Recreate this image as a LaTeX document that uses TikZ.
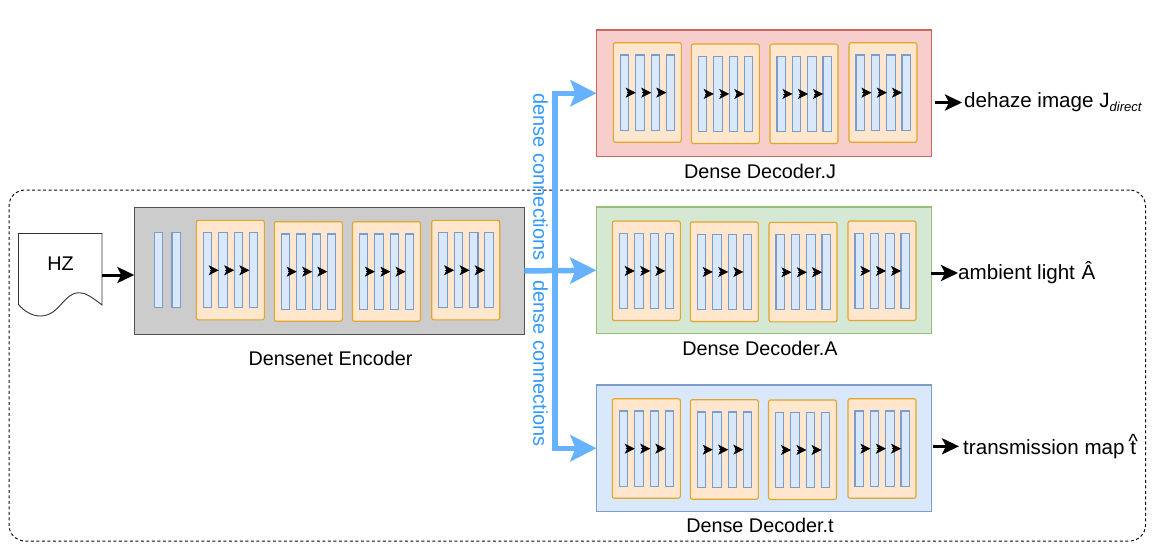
\documentclass[tikz,border=0pt]{standalone}
\usepackage{fontspec}
\setmainfont{Liberation Sans}
\usetikzlibrary{arrows.meta,calc}
\definecolor{busblue}{HTML}{66B2FF}
\definecolor{labelblue}{HTML}{3399FF}
\definecolor{orangefill}{HTML}{FFE6CC}
\definecolor{orangeline}{HTML}{E0A52A}
\definecolor{barfill}{HTML}{DAE8FC}
\definecolor{barline}{HTML}{7C9CCB}
\definecolor{redfill}{HTML}{F8CECC}
\definecolor{redline}{HTML}{CC6660}
\definecolor{greenfill}{HTML}{D5E8D4}
\definecolor{greenline}{HTML}{97C07D}
\tikzset{
  panel/.style={draw=#1,line width=1.1pt,inner sep=0pt,outer sep=0pt,minimum width=335pt,minimum height=126.5pt,anchor=north west},
  orangebox/.style={draw=orangeline,fill=orangefill,rounded corners=2pt,line width=1.1pt,inner sep=0pt,outer sep=0pt,minimum width=68pt,minimum height=99.5pt,anchor=north west},
  barbox/.style={draw=barline,fill=barfill,line width=1.1pt,inner sep=0pt,outer sep=0pt,minimum width=8.4pt,minimum height=75.3pt,anchor=north west},
  tinytip/.style={-{Stealth[length=10pt,width=10pt,inset=2.5pt]},line width=.6pt,black},
  bigtip/.style={-{Stealth[length=17pt,width=16pt,inset=4pt]},line width=3pt,black},
  bustip/.style={-{Stealth[length=26pt,width=26pt,inset=5pt]},line width=5.5pt,busblue,line join=miter},
  captext/.style={font=\fontsize{19.8}{22}\selectfont,inner sep=0pt,text=black},
  outtext/.style={font=\fontsize{20.6}{22}\selectfont,inner sep=0pt,anchor=west,text=black},
  buslabel/.style={font=\fontsize{20}{22}\selectfont,inner sep=0pt,text=labelblue,rotate=-90}
}
\newcommand{\dblock}[3]{%
  \node[orangebox] (#1) at (#2,#3) {};
  \node[barbox] (#1a) at ({#2+7},{#3+12.3}) {};
  \node[barbox] (#1b) at ({#2+22.4},{#3+12.3}) {};
  \node[barbox] (#1c) at ({#2+37.9},{#3+12.3}) {};
  \node[barbox] (#1d) at ({#2+53},{#3+12.3}) {};
  \draw[tinytip] ([xshift=-2pt]#1a.east) -- (#1b.west);
  \draw[tinytip] ([xshift=-2pt]#1b.east) -- (#1c.west);
  \draw[tinytip] ([xshift=-2pt]#1c.east) -- (#1d.west);
}
\begin{document}
\begin{tikzpicture}[x=1pt,y=-1pt]
\useasboundingbox (0,0) rectangle (1158,547);
% outer frame
\node[draw=black!95,dash pattern=on 3pt off 2.5pt,line width=1pt,rounded corners=16pt,inner sep=0pt,minimum width=1136.5pt,minimum height=351pt,anchor=north west] (frame) at (8.5,189.5) {};
% encoder
\node[panel=black!68,fill=black!20,minimum width=390pt,minimum height=126.5pt] (enc) at (134.3,207.7) {};
\node[barbox] (ea) at (154.3,232.3) {};
\node[barbox] (eb) at (172,232.3) {};
\dblock{e1}{196.3}{220.3}
\dblock{e2}{274.3}{221.7}
\dblock{e3}{352.5}{221.7}
\dblock{e4}{431.7}{220.3}
% decoders
\node[panel=redline,fill=redfill] (decJ) at (596.5,30) {};
\dblock{j1}{613.3}{42.7}
\dblock{j2}{691.3}{44}
\dblock{j3}{770}{44}
\dblock{j4}{849}{42.7}
\node[panel=greenline,fill=greenfill] (decA) at (596.3,207) {};
\dblock{a1}{612.3}{221}
\dblock{a2}{690.3}{222}
\dblock{a3}{769}{222.3}
\dblock{a4}{848}{221}
\node[panel=barline,fill=barfill] (decT) at (596.5,385) {};
\dblock{t1}{612.3}{398.7}
\dblock{t2}{690.3}{399.7}
\dblock{t3}{768.5}{400}
\dblock{t4}{848}{398.7}
% HZ document
\node[inner sep=0pt,outer sep=0pt,minimum width=83.5pt,minimum height=83pt,anchor=north west] (hz) at (18.5,233.5) {};
\draw[line width=.9pt,black!80,fill=white] (hz.north west) -- (hz.north east) -- (102,305)
  .. controls (92,297) and (85,292.5) .. (79,292.7)
  .. controls (63,293) and (60,316) .. (40,316)
  .. controls (32,316) and (24,311) .. (18.5,304.5) -- cycle;
\node[captext] (hzt) at (60.5,264) {HZ};
% black arrows
\draw[bigtip] (hz.east) -- (hz.east -| enc.west);
\node[outtext] (outJ) at (964,102.5) {dehaze image J{\fontsize{13}{13}\selectfont\itshape\raisebox{-3.5pt}[\height][0pt]{direct}}};
\node[outtext] (outA) at (958,273) {ambient light\hspace{1pt} Â};
\node[outtext] (outT) at (963,446.3) {transmission map t\llap{\makebox[.278em][c]{\raisebox{.3em}{\^{}}}}};
\draw[bigtip] ([xshift=3.5pt]decJ.east |- outJ.west) -- ([xshift=-2pt]outJ.west);
\draw[bigtip] (decA.east |- outA.west) -- (outA.west);
\draw[bigtip] ([xshift=1pt]decT.east |- outT.west) -- ([xshift=-4pt]outT.west);
% bus
\coordinate (bus) at (554.8,270.7);
\draw[bustip] (enc.east) -- (decA.west);
\draw[bustip] (bus) |- (decJ.west);
\draw[bustip] (bus) |- (decT.west);
\node[buslabel] (lab1) at (540.5,177) {dense connections};
\node[buslabel] (lab2) at (540.5,363.5) {dense connections};
% captions
\node[captext] (capE) at (330.5,358) {Densenet Encoder};
\node[captext] (capJ) at (760,171) {Dense Decoder.J};
\node[captext] (capA) at (760,348) {Dense Decoder.A};
\node[captext] (capT) at (760,525) {Dense Decoder.t};
\end{tikzpicture}
\end{document}
